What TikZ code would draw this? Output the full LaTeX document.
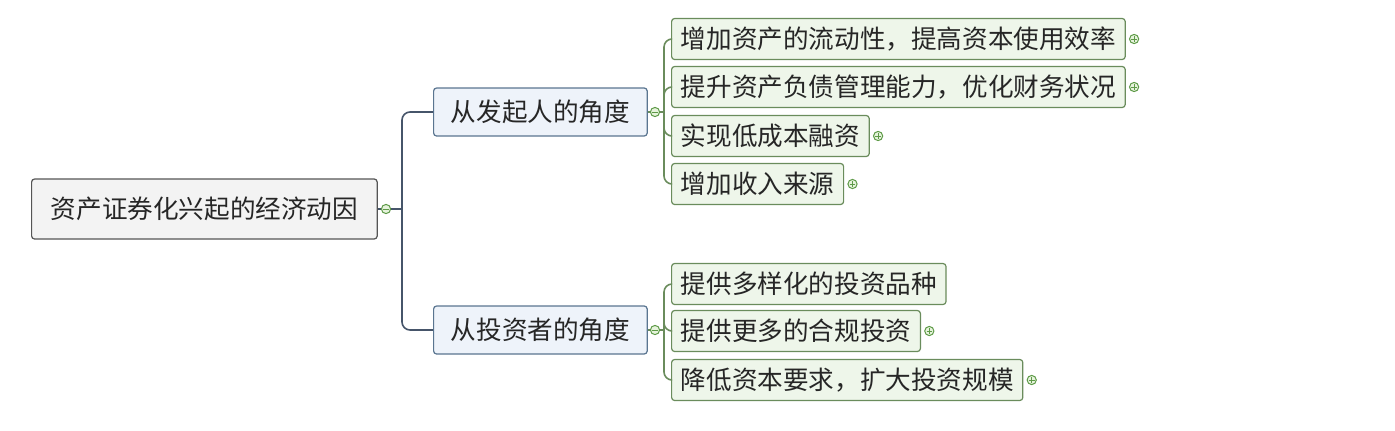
\documentclass[tikz,border=0pt]{standalone}
\usepackage{fontspec}
\setmainfont{Noto Sans CJK SC}
\usetikzlibrary{positioning}
\definecolor{rootfill}{HTML}{F3F3F3}
\definecolor{rootline}{HTML}{555555}
\definecolor{topicfill}{HTML}{EEF3FA}
\definecolor{topicline}{HTML}{5A7590}
\definecolor{leaffill}{HTML}{EEF6EA}
\definecolor{leafline}{HTML}{6A8C5C}
\definecolor{trunkline}{HTML}{46556A}
\definecolor{dotline}{HTML}{5E9A48}
\definecolor{dotfill}{HTML}{E6F3DC}
\tikzset{
  box/.style={draw,anchor=west,rounded corners=1.5pt,line width=0.6pt,
    font=\fontsize{12.8}{15}\selectfont,text=black!85},
  rootbox/.style={box,draw=rootline,fill=rootfill,minimum height=30pt,inner xsep=9.6pt},
  topicbox/.style={box,draw=topicline,fill=topicfill,minimum height=24pt,inner xsep=8.6pt},
  leafbox/.style={box,draw=leafline,fill=leaffill,minimum height=20.5pt,inner xsep=4.6pt},
  dot/.style={circle,draw=dotline,fill=dotfill,line width=0.5pt,minimum size=4.6pt,inner sep=0pt},
  minusdot/.style={dot,path picture={
    \draw[dotline,line width=0.5pt] ([xshift=-1.4pt]path picture bounding box.center)
      -- ([xshift=1.4pt]path picture bounding box.center);}},
  plusdot/.style={dot,path picture={
    \draw[dotline,line width=0.5pt] ([xshift=-1.4pt]path picture bounding box.center)
      -- ([xshift=1.4pt]path picture bounding box.center)
      ([yshift=-1.4pt]path picture bounding box.center)
      -- ([yshift=1.4pt]path picture bounding box.center);}},
  trunk/.style={trunkline,line width=0.8pt,rounded corners=4pt},
  twig/.style={leafline,line width=0.8pt,rounded corners=4pt}
}
\begin{document}
\begin{tikzpicture}[x=0.5pt,y=-0.5pt]
	\useasboundingbox (0,0) rectangle (1395,430);

	% root and its two topics
	\node[rootbox] (root) at (31,209) {资产证券化兴起的经济动因};
	\node[minusdot] (rootdot) at (386,209) {};
	\node[topicbox] (issuer) at (433,112) {从发起人的角度};
	\node[minusdot] (issuerdot) at (655,112) {};
	\node[topicbox] (investor) at (433,330) {从投资者的角度};
	\node[minusdot] (investordot) at (655,330) {};

	% leaves of the first topic
	\node[leafbox] (a1) at (671,39) {增加资产的流动性，提高资本使用效率};
	\node[leafbox] (a2) at (671,87) {提升资产负债管理能力，优化财务状况};
	\node[leafbox] (a3) at (671,136) {实现低成本融资};
	\node[leafbox] (a4) at (671,184) {增加收入来源};
	\node[plusdot,right=1.6pt of a1] (a1dot) {};
	\node[plusdot,right=1.6pt of a2] (a2dot) {};
	\node[plusdot,right=1.6pt of a3] (a3dot) {};
	\node[plusdot,right=1.6pt of a4] (a4dot) {};

	% leaves of the second topic
	\node[leafbox] (b1) at (671,284) {提供多样化的投资品种};
	\node[leafbox] (b2) at (671,331) {提供更多的合规投资};
	\node[leafbox] (b3) at (671,380) {降低资本要求，扩大投资规模};
	\node[plusdot,right=1.6pt of b2] (b2dot) {};
	\node[plusdot,right=1.6pt of b3] (b3dot) {};

	% connectors
	\coordinate (spine) at (402,209);
	\coordinate (spineA) at (664,112);
	\coordinate (spineB) at (664,330);
	\draw[trunk] (root.east) -- (rootdot.west);
	\draw[trunk] (rootdot.east) -- (spine);
	\draw[trunk] (spine) |- (issuer.west);
	\draw[trunk] (spine) |- (investor.west);
	\draw[twig] (issuer.east) -- (issuerdot.west);
	\draw[twig] (investor.east) -- (investordot.west);
	\draw[twig] (issuerdot.east) -- (spineA);
	\draw[twig] (investordot.east) -- (spineB);
	\foreach \leaf in {a1,a2,a3,a4}
		\draw[twig] (spineA) |- (\leaf.west);
	\foreach \leaf in {b1,b2,b3}
		\draw[twig] (spineB) |- (\leaf.west);
\end{tikzpicture}
\end{document}
